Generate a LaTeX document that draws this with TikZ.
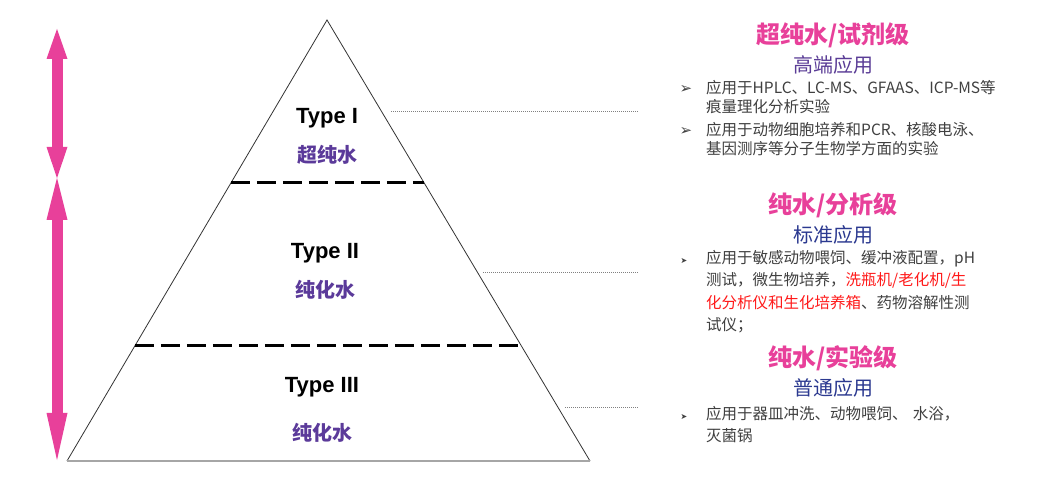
\documentclass[tikz,border=0pt]{standalone}
\usepackage{fontspec}
\setmainfont{Liberation Sans}
\newfontfamily\cjk{Noto Sans CJK SC}
\newfontfamily\symb{DejaVu Sans}
\usetikzlibrary{arrows.meta,calc}
\definecolor{rosered}{RGB}{232,64,154}
\definecolor{labelpurple}{RGB}{91,58,154}
\definecolor{usepurple}{RGB}{90,60,150}
\definecolor{usenavy}{RGB}{43,57,144}
\definecolor{textgray}{RGB}{64,64,64}
\definecolor{alertred}{RGB}{255,26,26}
\begin{document}
\begin{tikzpicture}[x=1pt,y=-1pt,
type label/.style={font=\fontsize{22}{26}\selectfont\bfseries},
water label/.style={font=\cjk\fontsize{20}{24}\selectfont\bfseries,text=labelpurple},
grade/.style={font=\cjk\fontsize{24}{28}\selectfont\bfseries,text=rosered},
usage/.style={font=\cjk\fontsize{20}{24}\selectfont},
item/.style={font=\cjk\fontsize{15.5}{#1}\selectfont,text=textgray,
  anchor=base west,inner sep=0pt,text width=300pt,align=left},
bullet/.style={font=\symb\fontsize{#1}{#1}\selectfont,text=textgray,anchor=base,inner sep=0pt},
level/.style={line width=3pt,dash pattern=on 19pt off 7pt},
leader/.style={gray,line width=0.6pt,dash pattern=on 1pt off 1pt},
span/.style={rosered,line width=11pt}]
\fill[white] (0,0) rectangle (1045,478);
\useasboundingbox (0,0) rectangle (1045,478);
% pyramid
\coordinate (apex) at (327,20);
\coordinate (bl) at (67,461);
\coordinate (br) at (590,461);
\draw[line width=0.8pt,black!80] (bl) -- (apex) -- (br);
\draw[line width=2pt,black!35] (bl) -- (br);
\draw[level] ($(apex)!0.3696!(bl)$) -- ($(apex)!0.3696!(br)$);
\draw[level] ($(apex)!0.7392!(bl)$) -- ($(apex)!0.7392!(br)$);
% levels
\node[type label] (t1) at (327,118) {Type I};
\node[water label] (w1) at (327,155) {超纯水};
\node[type label] (t2) at (325,253) {Type II};
\node[water label] (w2) at (325,290) {纯化水};
\node[type label] (t3) at (322,387) {Type III};
\node[water label] (w3) at (322,433) {纯化水};
% leaders
\foreach \y/\xs in {111/391,272/483,407/565}
  \draw[leader] (\xs,\y) -- (638,\y);
% arrows
\coordinate (top) at (57,29);
\coordinate (mid) at (57,178);
\coordinate (bot) at (57,460);
\draw[span,{Triangle[length=30pt,width=21pt,line width=0pt]}-{Triangle[length=31pt,width=21pt,line width=0pt]}] (top) -- (mid);
\draw[span,{Triangle[length=42pt,width=21pt,line width=0pt]}-{Triangle[length=47pt,width=21pt,line width=0pt]}] (mid) -- (bot);
% Type I
\node[grade] (g1) at (833,35) {超纯水/试剂级};
\node[usage,text=usepurple] (u1) at (833,65) {高端应用};
\node[bullet=15] (b1) at (686,93.5) {➢};
\node[item=19.5] (i1) at (706,93.5) {应用于HPLC、LC-MS、GFAAS、ICP-MS等\\痕量理化分析实验};
\node[bullet=15] (b2) at (686,135.5) {➢};
\node[item=19.5] (i2) at (706,135.5) {应用于动物细胞培养和PCR、核酸电泳、\\基因测序等分子生物学方面的实验};
% Type II
\node[grade] (g2) at (833,205) {纯水/分析级};
\node[usage,text=usenavy] (u2) at (833,235) {标准应用};
\node[bullet=8] (b3) at (684,263.5) {➤};
\node[item=22.3] (i3) at (706,263.5) {应用于敏感动物喂饲、缓冲液配置，pH\\测试，微生物培养，{\color{alertred}洗瓶机/老化机/生\\化分析仪和生化培养箱}、药物溶解性测\\试仪；};
% Type III
\node[grade] (g3) at (833,358) {纯水/实验级};
\node[usage,text=usenavy] (u3) at (833,388) {普通应用};
\node[bullet=8] (b4) at (684,419.5) {➤};
\node[item=22] (i4) at (706,419.5) {应用于器皿冲洗、动物喂饲、 水浴，\\灭菌锅};
\end{tikzpicture}
\end{document}
